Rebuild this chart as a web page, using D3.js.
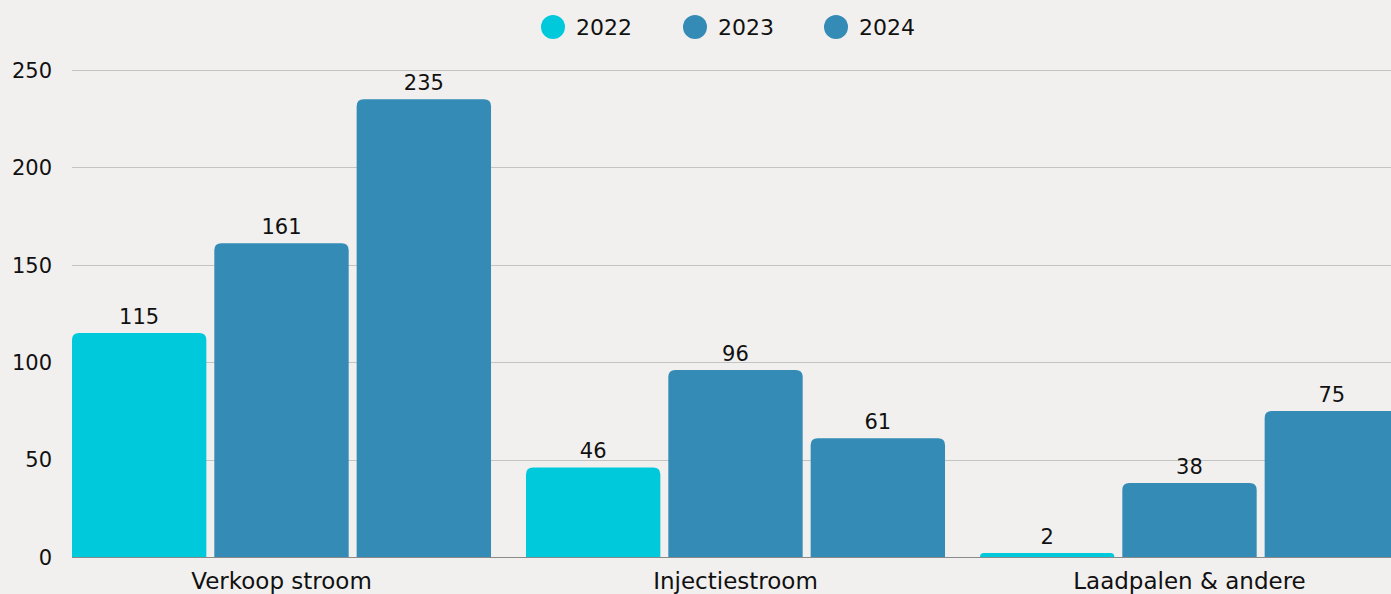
<!DOCTYPE html>
<html>
<head>
<meta charset="utf-8">
<script src="https://cdn.jsdelivr.net/npm/d3@7"></script>
<style>
  body { margin: 0; background: #f1f0ee; overflow: hidden; }
  svg { display: block; font-family: "DejaVu Sans", "Noto Sans", sans-serif; }
  .grid line { stroke: #c4c4c4; stroke-width: 1; }
  .y.axis text, .x.axis text { fill: #111; }
</style>
</head>
<body>
<svg class="bar-chart" width="1391" height="594"></svg>
<script>
// data
var categories = ['Verkoop stroom', 'Injectiestroom', 'Laadpalen & andere'];
var years = ['2022', '2023', '2024'];
var values2022 = [115, 46, 2];
var values2023 = [161, 96, 38];
var values2024 = [235, 61, 75];
var yTicks = [0, 50, 100, 150, 200, 250];

var colors = { '2022': '#00c9dc', '2023': '#338bb6', '2024': '#338bb6' };
var series = { '2022': values2022, '2023': values2023, '2024': values2024 };

var svg = d3.select('.bar-chart');

var plotLeft = 72, plotRight = 1391, plotTop = 70, plotBottom = 557;

var yScale = d3.scaleLinear()
    .domain([0, 250])
    .range([plotBottom, plotTop]);

// outer band spans past the right edge, like the original
var x0 = d3.scaleBand()
    .domain(categories)
    .range([54.5, 1416.5])
    .paddingInner(0.077)
    .paddingOuter(0.0385);

var x1 = d3.scaleBand()
    .domain(years)
    .range([0, x0.bandwidth()])
    .paddingInner(0.056);

// grid lines
svg.append('g')
    .attr('class', 'grid')
  .selectAll('line')
    .data(yTicks.filter(function(d) { return d > 0; }))
  .enter().append('line')
    .attr('x1', plotLeft)
    .attr('x2', plotRight)
    .attr('y1', function(d) { return Math.round(yScale(d)) + 0.5; })
    .attr('y2', function(d) { return Math.round(yScale(d)) + 0.5; });

// y axis labels
var y_axis = d3.axisLeft(yScale)
    .tickValues(yTicks)
    .tickSize(0)
    .tickPadding(0);

svg.append('g')
    .attr('class', 'y axis')
    .attr('transform', 'translate(52,0)')
    .call(y_axis)
    .call(function(g) { g.select('.domain').remove(); })
    .selectAll('text')
      .style('font-size', '21px')
      .style('font-family', '"DejaVu Sans", sans-serif')
      .attr('dy', '0.35em');

// bars with rounded tops
var radius = 7;
var topRounded = function(x, y, w, h) {
  var r = Math.min(radius, h, w / 2);
  return 'M' + x + ',' + (y + h) +
    'V' + (y + r) +
    'Q' + x + ',' + y + ' ' + (x + r) + ',' + y +
    'H' + (x + w - r) +
    'Q' + (x + w) + ',' + y + ' ' + (x + w) + ',' + (y + r) +
    'V' + (y + h) + 'Z';
};

var groups = svg.selectAll('.group')
    .data(categories)
  .enter().append('g')
    .attr('class', 'group')
    .attr('transform', function(d) { return 'translate(' + x0(d) + ',0)'; });

var barData = function(cat, ci) {
  return years.map(function(yr) { return { year: yr, value: series[yr][ci] }; });
};

groups.selectAll('path')
    .data(function(d, i) { return barData(d, i); })
  .enter().append('path')
    .attr('fill', function(d) { return colors[d.year]; })
    .attr('d', function(d) {
      var y = yScale(d.value);
      return topRounded(x1(d.year), y, x1.bandwidth(), yScale(0) - y);
    });

groups.selectAll('text.value')
    .data(function(d, i) { return barData(d, i); })
  .enter().append('text')
    .attr('class', 'value')
    .attr('x', function(d) { return x1(d.year) + x1.bandwidth() / 2; })
    .attr('y', function(d) { return yScale(d.value) - 9; })
    .attr('text-anchor', 'middle')
    .style('font-size', '21px')
    .style('fill', '#111')
    .text(function(d) { return d.value; });

// baseline
svg.append('line')
    .attr('x1', plotLeft)
    .attr('x2', plotRight)
    .attr('y1', Math.round(yScale(0)) + 0.5)
    .attr('y2', Math.round(yScale(0)) + 0.5)
    .style('stroke', '#8a8a8a');

// x axis labels
var x_axis = d3.axisBottom(x0).tickSize(0).tickPadding(0);
svg.append('g')
    .attr('class', 'x axis')
    .attr('transform', 'translate(0,' + (plotBottom + 10) + ')')
    .call(x_axis)
    .call(function(g) { g.select('.domain').remove(); })
    .selectAll('text')
      .style('font-size', '23px')
      .style('font-family', '"DejaVu Sans", sans-serif')
      .attr('dy', '0.95em');

// legend
var legendX = [553, 695, 836];
var legend = svg.selectAll('.legend')
    .data(years)
  .enter().append('g')
    .attr('class', 'legend')
    .attr('transform', function(d, i) { return 'translate(' + legendX[i] + ',27)'; });

legend.append('circle')
    .attr('r', 12)
    .attr('fill', function(d) { return colors[d]; });

legend.append('text')
    .attr('x', 23)
    .attr('dy', '0.36em')
    .style('font-size', '22px')
    .style('fill', '#111')
    .text(function(d) { return d; });
</script>
</body>
</html>
